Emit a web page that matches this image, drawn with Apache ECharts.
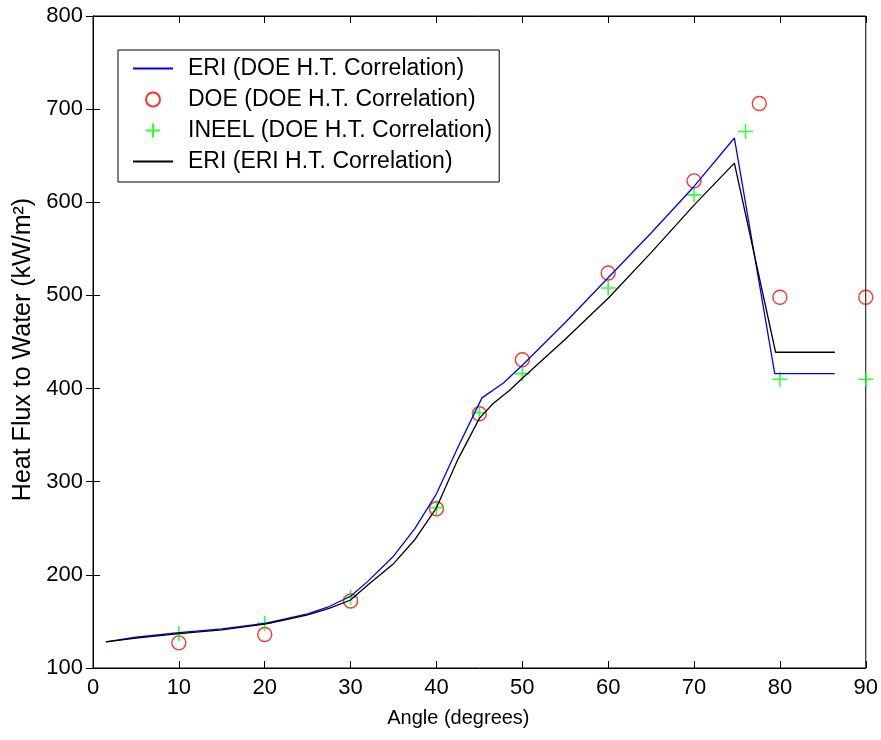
<!DOCTYPE html>
<html>
<head>
<meta charset="utf-8">
<script src="https://cdn.jsdelivr.net/npm/echarts@6/dist/echarts.min.js"></script>
<style>html,body{margin:0;padding:0;background:#fff}#c{width:881px;height:740px}</style>
</head>
<body>
<div id="c"></div>
<script>
// ERI curve with DOE heat-transfer correlation (blue)
const eriDoeX = [1.5, 5, 10, 15, 20, 22, 25, 27.5, 30, 32, 35, 37.5, 40, 42.5, 44.5, 45.3, 47.8, 50, 55, 60, 65, 70, 74.7, 79.4, 86.4];
const eriDoeY = [128, 133, 138, 142, 148, 152, 158, 166, 177, 193, 220, 250, 287, 337, 375, 390, 406, 425, 471, 519, 567, 617, 669, 416, 416];
// ERI curve with ERI heat-transfer correlation (black)
const eriEriX = [1.5, 5, 10, 15, 20, 22, 25, 27.5, 30, 32, 35, 37.5, 40, 42.5, 45, 46.6, 48.5, 50, 55, 60, 65, 70, 74.7, 79.5, 86.4];
const eriEriY = [128, 132, 137, 141, 147, 151, 157, 164, 173, 189, 212, 238, 272, 324, 368, 384, 398, 411, 453, 497, 546, 597, 642, 439, 439];
// DOE points (red circles)
const doeX = [10, 20, 30, 40, 45, 50, 60, 70, 77.6, 80, 90];
const doeY = [127, 136, 172, 271, 373, 431, 524, 623, 706, 498, 498];
// INEEL points (green plus)
const ineelX = [10, 20, 30, 40, 45, 50, 60, 70, 76, 80, 90];
const ineelY = [137, 148, 176, 272, 374, 416, 508, 608, 676, 410, 410];

const xTicks = [0, 10, 20, 30, 40, 50, 60, 70, 80, 90];
const yTicks = [100, 200, 300, 400, 500, 600, 700, 800];

const seriesNames = ['ERI (DOE H.T. Correlation)', 'DOE (DOE H.T. Correlation)', 'INEEL (DOE H.T. Correlation)', 'ERI (ERI H.T. Correlation)'];

const zip = (xs, ys) => xs.map((x, i) => [x, ys[i]]);
const FONT = '"Liberation Sans", Arial, sans-serif';
const plusPath = 'path://M0,5 L10,5 M5,0 L5,10';
const noDot = {color: 'rgba(0,0,0,0)', borderColor: 'rgba(0,0,0,0)', borderWidth: 0};

const chart = echarts.init(document.getElementById('c'), null, {renderer: 'canvas'});
const axisCommon = {
  axisLine: {show: true, lineStyle: {color: '#000', width: 1}},
  axisTick: {show: true, inside: true, length: 7, lineStyle: {color: '#000'}},
  splitLine: {show: false}
};
chart.setOption({
  animation: false,
  backgroundColor: '#fff',
  grid: {left: 93, right: 15, top: 16, bottom: 72, show: true, borderColor: '#000', borderWidth: 1},
  xAxis: [
    Object.assign({
      type: 'value', min: xTicks[0], max: xTicks[xTicks.length - 1], interval: 10,
      name: 'Angle (degrees)', nameLocation: 'middle', nameGap: 40,
      nameTextStyle: {fontFamily: FONT, fontSize: 20, color: '#000', padding: [0, 42, 0, 0]},
      axisLabel: {fontFamily: FONT, fontSize: 22, color: '#000', margin: 9}
    }, axisCommon),
    Object.assign({
      type: 'value', position: 'top', min: xTicks[0], max: xTicks[xTicks.length - 1], interval: 10,
      axisLabel: {show: false}
    }, axisCommon)
  ],
  yAxis: [
    Object.assign({
      type: 'value', min: yTicks[0], max: yTicks[yTicks.length - 1], interval: 100,
      name: 'Heat Flux to Water (kW/m²)', nameLocation: 'middle', nameGap: 56, nameRotate: 90,
      nameTextStyle: {fontFamily: FONT, fontSize: 25, color: '#000', padding: [0, 15, 0, 0]},
      axisLabel: {fontFamily: FONT, fontSize: 22, color: '#000', margin: 10}
    }, axisCommon),
    Object.assign({
      type: 'value', position: 'right', min: yTicks[0], max: yTicks[yTicks.length - 1], interval: 100,
      axisLabel: {show: false}
    }, axisCommon)
  ],
  legend: {
    orient: 'vertical', left: 118, top: 50,
    backgroundColor: '#fff', borderColor: '#000', borderWidth: 1,
    padding: [7, 7, 9, 14], itemGap: 8, itemWidth: 40, itemHeight: 14,
    textStyle: {fontFamily: FONT, fontSize: 23, color: '#000', lineHeight: 22, padding: [0, 0, 0, 10]},
    data: [
      {name: seriesNames[0], itemStyle: noDot},
      {name: seriesNames[1]},
      {name: seriesNames[2]},
      {name: seriesNames[3], itemStyle: noDot}
    ]
  },
  series: [
    {name: seriesNames[0], type: 'line', data: zip(eriDoeX, eriDoeY), showSymbol: false, symbol: 'none',
     lineStyle: {color: '#0000ff', width: 1.3}, itemStyle: {color: '#0000ff'}},
    {name: seriesNames[1], type: 'scatter', data: zip(doeX, doeY), symbol: 'circle', symbolSize: 14,
     itemStyle: {color: 'rgba(0,0,0,0)', borderColor: '#ff0000', borderWidth: 1.4}},
    {name: seriesNames[2], type: 'scatter', data: zip(ineelX, ineelY), symbol: plusPath, symbolSize: 15,
     itemStyle: {color: '#00ff00', borderColor: '#00ff00', borderWidth: 1.6}},
    {name: seriesNames[3], type: 'line', data: zip(eriEriX, eriEriY), showSymbol: false, symbol: 'none',
     lineStyle: {color: '#000000', width: 1.3}, itemStyle: {color: '#000000'}}
  ]
});
</script>
</body>
</html>
